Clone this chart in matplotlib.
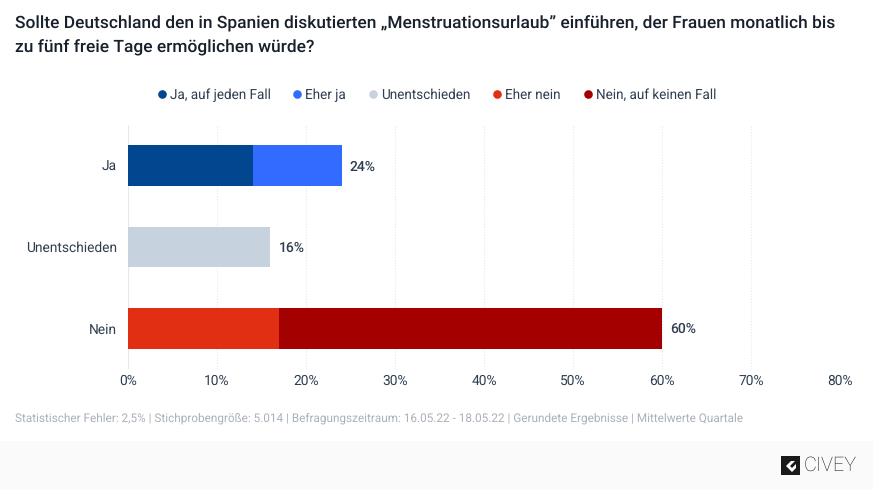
import matplotlib
matplotlib.use("Agg")
import matplotlib.pyplot as plt
from matplotlib.patches import Rectangle, Polygon

plt.rcParams['font.family'] = ['Roboto', 'DejaVu Sans']
plt.rcParams['text.hinting'] = 'no_hinting'
plt.rcParams['text.hinting_factor'] = 8

categories = ["Ja", "Unentschieden", "Nein"]
totals = [24, 16, 60]
series_names = ["Ja, auf jeden Fall", "Eher ja", "Unentschieden", "Eher nein", "Nein, auf keinen Fall"]
series_colors = ["#00478f", "#316bff", "#c6d3de", "#e02f12", "#a50000"]
# values per series, same order as categories
ja_sicher = [14, 0, 0]
eher_ja = [10, 0, 0]
unentschieden = [0, 16, 0]
eher_nein = [0, 0, 17]
nein_sicher = [0, 0, 43]
xticks = [0, 10, 20, 30, 40, 50, 60, 70, 80]

W, H = 873, 490
text_col = "#2f3e50"
grey_col = "#a9b1ba"

fig = plt.figure(figsize=(W / 100, H / 100), dpi=100, facecolor="white")

# footer band
fig.add_artist(Rectangle((0, 0), 1, 49 / H, transform=fig.transFigure, color="#fafafa", lw=0))

ax = fig.add_axes([128 / W, 1 - 369 / H, (840 - 128) / W, (369 - 125) / H])
ax.set_xlim(0, 80)
ax.set_ylim(2.5, -0.5)

y = range(len(categories))
left = [0, 0, 0]
for vals, name, col in zip([ja_sicher, eher_ja, unentschieden, eher_nein, nein_sicher], series_names, series_colors):
    ax.barh(y, vals, left=left, height=0.5, color=col, lw=0, zorder=3)
    left = [a + b for a, b in zip(left, vals)]

for i, t in enumerate(totals):
    ax.annotate(f"{t}%", (t, i), xytext=(6.0, -0.7), textcoords="offset points",
                va="center", ha="left", fontsize=10, fontweight="medium", color=text_col)

ax.set_xticks(xticks)
ax.set_xticklabels([f"{v}%" for v in xticks])
ax.set_yticks(list(y))
ax.set_yticklabels(categories, va="center_baseline")
ax.tick_params(axis="both", length=0, labelsize=9.9, labelcolor=text_col)
ax.tick_params(axis="x", pad=4.2)
ax.tick_params(axis="y", pad=8)
ax.grid(axis="x", color="#e6e8ea", lw=0.8, ls=(0, (1, 1.5)), zorder=0)
ax.axvline(0, color="#e8e8e8", lw=1.5, zorder=1)
for s in ax.spines.values():
    s.set_visible(False)

fig.text(15 / W, 1 - 24 / H, "Sollte Deutschland den in Spanien diskutierten „Menstruationsurlaub” einführen, der Frauen monatlich bis",
         fontsize=12.5, fontweight="medium", color="#17202b", va="center")
fig.text(15 / W, 1 - 48 / H, "zu fünf freie Tage ermöglichen würde?",
         fontsize=12.5, fontweight="medium", color="#17202b", va="center")

# legend, placed by hand to match spacing
legend_x = [162, 297, 373, 497, 588]
for lx, name, col in zip(legend_x, series_names, series_colors):
    fig.add_artist(plt.Line2D([lx / W], [1 - 94 / H], marker="o", ms=6.2, color=col, mew=0, ls="none"))
    fig.text((lx + 8) / W, 1 - 95 / H, name, fontsize=9.75, color=text_col, va="center")

fig.text(15 / W, 1 - 418 / H,
         "Statistischer Fehler: 2,5% | Stichprobengröße: 5.014 | Befragungszeitraum: 16.05.22 - 18.05.22 | Gerundete Ergebnisse | Mittelwerte Quartale",
         fontsize=8.45, color=grey_col, va="center")

# civey logo
fig.add_artist(Rectangle((781 / W, 1 - 475 / H), 19 / W, 19 / H, transform=fig.transFigure, color="#1a1a1a", lw=0))
fig.add_artist(Polygon([(786 / W, 1 - 466 / H), (791 / W, 1 - 461 / H), (795 / W, 1 - 461 / H),
                        (790 / W, 1 - 466 / H), (792 / W, 1 - 468 / H), (796 / W, 1 - 464 / H),
                        (796 / W, 1 - 468 / H), (792 / W, 1 - 472 / H)],
                       transform=fig.transFigure, color="white", lw=0))
fig.text(803.5 / W, 1 - 465.5 / H, "CIVEY", fontsize=14.3, color="#1a1a1a", va="center", fontweight="light")

fig.savefig("out.png", dpi=100, facecolor=fig.get_facecolor())
